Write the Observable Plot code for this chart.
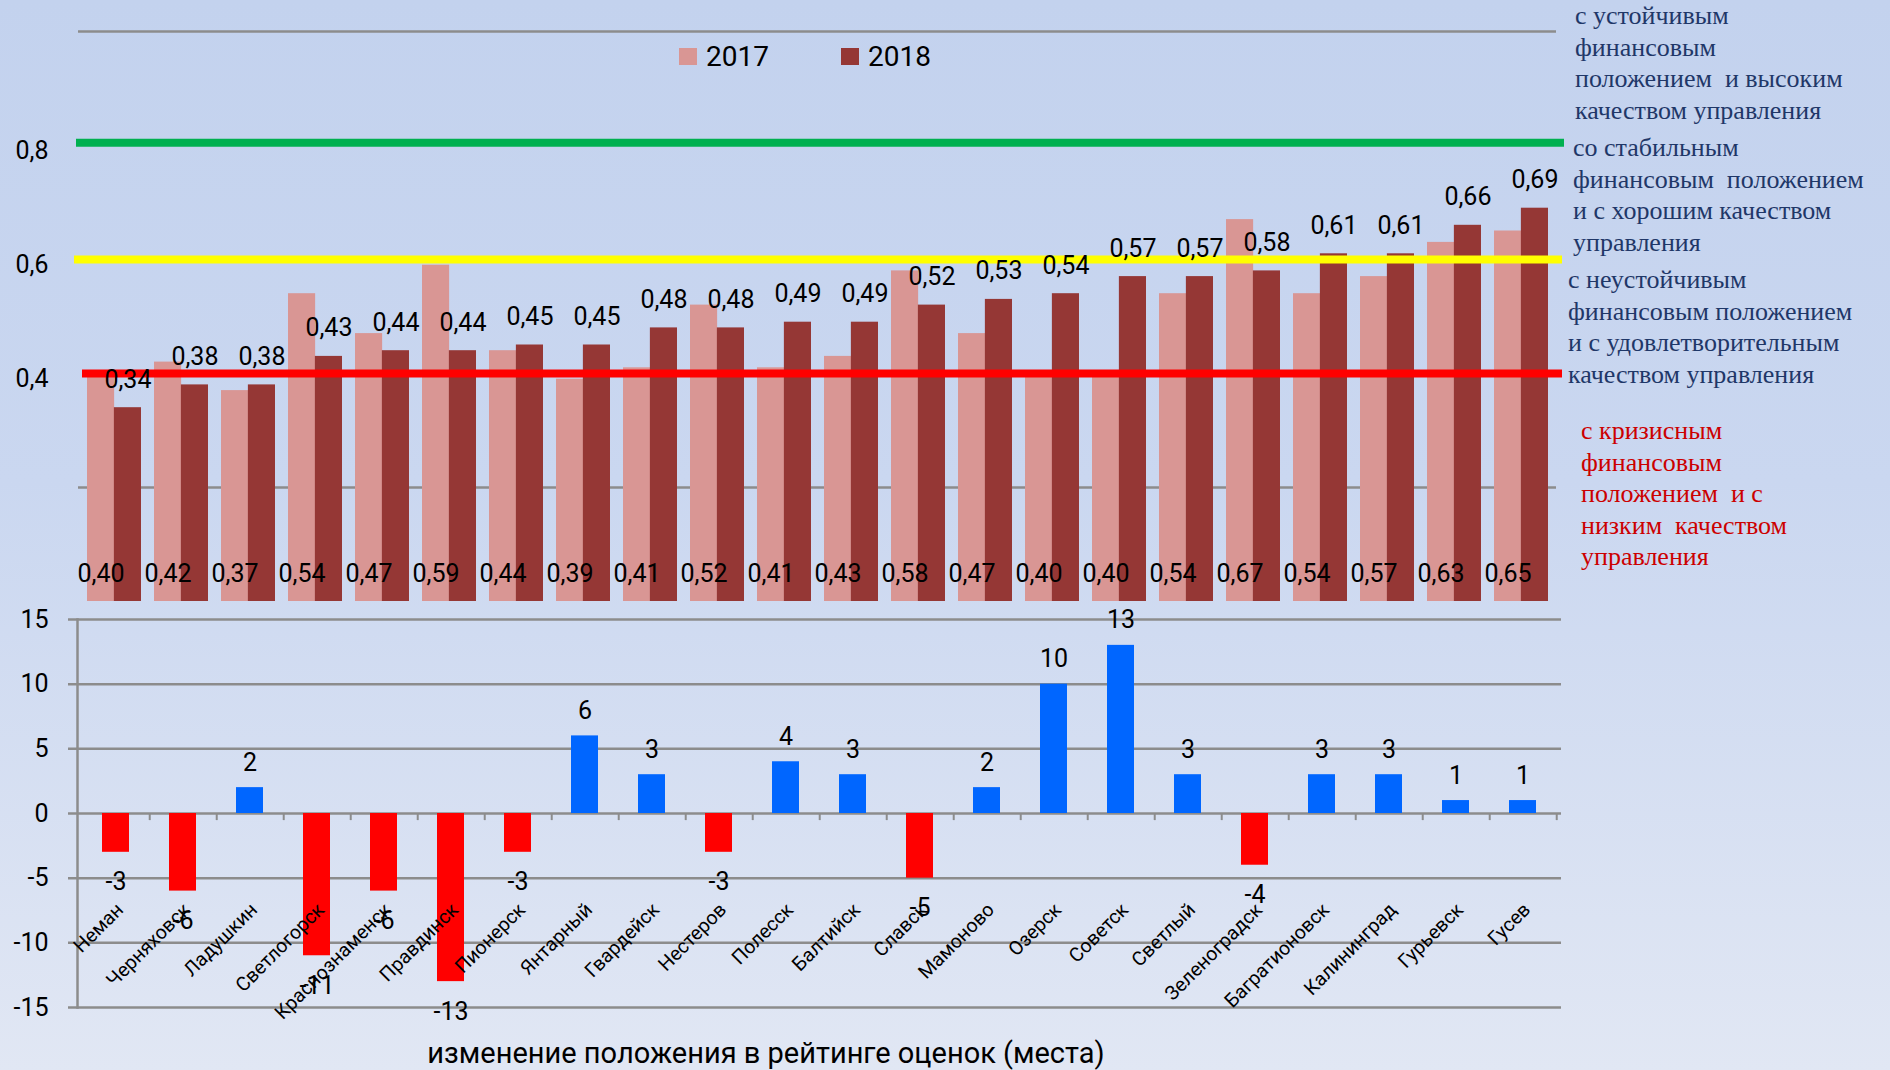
<!DOCTYPE html>
<html>
<head>
<meta charset="utf-8">
<script src="https://cdn.jsdelivr.net/npm/d3@7"></script>
<script src="https://cdn.jsdelivr.net/npm/@observablehq/plot@0.6"></script>
<style>
  html, body { margin: 0; padding: 0; }
  body {
    width: 1890px; height: 1070px; overflow: hidden; position: relative;
    background: linear-gradient(to bottom, #c3d2ee 0%, #cad7f0 45%, #e1e7f4 100%);
    font-family: Roboto, "Noto Sans", sans-serif;
  }
  #topChart, #bottomChart { position: absolute; left: 0; }
  #topChart { top: 0; }
  #bottomChart { top: 590px; }
  .note {
    position: absolute; font-family: "Liberation Serif", "Times New Roman", serif;
    font-size: 26px; line-height: 31.5px; white-space: pre; color: #1f3768;
  }
  .note.red { color: #cc0000; }
  .legend { position: absolute; top: 40px; left: 679px; display: flex; align-items: center; font-size: 28px; color: #000; }
  .legend .item { display: flex; align-items: center; margin-right: 72px; }
  .legend .sw { width: 18px; height: 17px; margin-right: 9px; }
  #caption { position: absolute; top: 1036px; left: 0; width: 1532px; text-align: center; font-size: 29px; color: #000; }
</style>
</head>
<body>
<div id="topChart"></div>
<div id="bottomChart"></div>
<div class="legend" id="legend"></div>
<div class="note" style="left:1575px; top:0px;">с устойчивым
финансовым
положением  и высоким
качеством управления</div>
<div class="note" style="left:1573px; top:132px;">со стабильным
финансовым  положением
и с хорошим качеством
управления</div>
<div class="note" style="left:1568px; top:264px;">с неустойчивым
финансовым положением
и с удовлетворительным
качеством управления</div>
<div class="note red" style="left:1581px; top:415px;">с кризисным
финансовым
положением  и с
низким  качеством
управления</div>
<div id="caption">изменение положения в рейтинге оценок (места)</div>
<script>
// ---- data ----
const cities = ["Неман","Черняховск","Ладушкин","Светлогорск","Краснознаменск","Правдинск","Пионерск","Янтарный","Гвардейск","Нестеров","Полесск","Балтийск","Славск","Мамоново","Озерск","Советск","Светлый","Зеленоградск","Багратионовск","Калининград","Гурьевск","Гусев"];
const score2017 = [0.40,0.42,0.37,0.54,0.47,0.59,0.44,0.39,0.41,0.52,0.41,0.43,0.58,0.47,0.40,0.40,0.54,0.67,0.54,0.57,0.63,0.65];
const score2018 = [0.34,0.38,0.38,0.43,0.44,0.44,0.45,0.45,0.48,0.48,0.49,0.49,0.52,0.53,0.54,0.57,0.57,0.58,0.61,0.61,0.66,0.69];
const rankChange = [-3,-6,2,-11,-6,-13,-3,6,3,-3,4,3,-5,2,10,13,3,-4,3,3,1,1];
const years = ["2017","2018"];
const scoreTicks = [0.4, 0.6, 0.8];
const scoreGrid = [0.2, 1.0];
const thresholdHigh = 0.805;
const thresholdMid = 0.6;
const thresholdLow = 0.4;
const rankTicks = [-15,-10,-5,0,5,10,15];

// ---- styles ----
const c2017 = "#d99694", c2018 = "#953735";
const cPos = "#0066ff", cNeg = "#ff0000";
const gridColor = "#8c8c8c";
const comma2 = v => v.toFixed(2).replace(".", ",");
const comma1 = v => v.toFixed(1).replace(".", ",");

// legend
const legendEl = document.getElementById("legend");
[[years[0], c2017],[years[1], c2018]].forEach(([y, c]) => {
  const it = document.createElement("div"); it.className = "item";
  const sw = document.createElement("div"); sw.className = "sw"; sw.style.background = c;
  const t = document.createElement("span"); t.textContent = y;
  it.appendChild(sw); it.appendChild(t); legendEl.appendChild(it);
});

const rows17 = cities.map((c, i) => ({city: c, value: score2017[i]}));
const rows18 = cities.map((c, i) => ({city: c, value: score2018[i]}));
const rowsRank = cities.map((c, i) => ({city: c, value: rankChange[i]}));

// ---- top chart ----
const W = 1570;
const topML = 78, topMR = 14;
const topStep = (W - topML - topMR) / cities.length;
const half = topStep * 0.8 / 2;

const topPlot = Plot.plot({
  width: W, height: 610,
  marginLeft: topML, marginRight: topMR, marginTop: 31, marginBottom: 9,
  style: {background: "transparent", fontFamily: "Roboto, 'Noto Sans', sans-serif", fontSize: "25px", color: "#000", overflow: "visible"},
  x: {domain: cities, paddingInner: 0.2, paddingOuter: 0.1, axis: null},
  y: {domain: [0, 1.0], axis: null},
  marks: [
    Plot.ruleY(scoreGrid, {stroke: gridColor, strokeWidth: 2.5}),
    Plot.barY(rows17, {x: "city", y: "value", fill: c2017, insetRight: half}),
    Plot.barY(rows18, {x: "city", y: "value", fill: c2018, insetLeft: half}),
    Plot.ruleY([thresholdHigh], {stroke: "#00b050", strokeWidth: 8, insetLeft: -2, insetRight: -8}),
    Plot.ruleY([thresholdMid], {stroke: "#ffff00", strokeWidth: 8, insetLeft: -4, insetRight: -6}),
    Plot.ruleY([thresholdLow], {stroke: "#ff0000", strokeWidth: 8, insetLeft: 4, insetRight: -6}),
    Plot.text(rows17, {x: "city", y: () => 0, text: d => comma2(d.value), dx: -half / 2, dy: -28, fill: "#000"}),
    Plot.text(rows18, {x: "city", y: "value", text: d => comma2(d.value), dx: half / 2, dy: -28, fill: "#000"}),
    Plot.axisY(scoreTicks, {tickSize: 0, tickPadding: 30, tickFormat: comma1, dy: 5, label: null, fill: "#000"})
  ]
});
document.getElementById("topChart").appendChild(topPlot);

// ---- bottom chart ----
const botML = 77, botMR = 9;
const botStep = (W - botML - botMR) / cities.length;
const bottomPlot = Plot.plot({
  width: W, height: 480,
  marginLeft: botML, marginRight: botMR, marginTop: 29, marginBottom: 63,
  style: {background: "transparent", fontFamily: "Roboto, 'Noto Sans', sans-serif", fontSize: "25px", color: "#000", overflow: "visible"},
  x: {domain: cities, paddingInner: 0.6, paddingOuter: 0.3, axis: null},
  y: {domain: [-15, 15], axis: null},
  marks: [
    Plot.ruleY(rankTicks, {stroke: gridColor, strokeWidth: 2.5, insetLeft: -9}),
    Plot.frame({anchor: "left", stroke: gridColor, strokeWidth: 2.5}),
    Plot.ruleX(cities, {x: d => d, dx: botStep / 2, y1: () => 0, y2: () => -0.55, stroke: gridColor, strokeWidth: 2}),
    Plot.barY(rowsRank.filter(d => d.value >= 0), {x: "city", y: "value", fill: cPos}),
    Plot.barY(rowsRank.filter(d => d.value < 0), {x: "city", y: "value", fill: cNeg}),
    Plot.text(rowsRank.filter(d => d.value >= 0), {x: "city", y: "value", text: d => String(d.value), dy: -25, fill: "#000"}),
    Plot.text(rowsRank.filter(d => d.value < 0), {x: "city", y: "value", text: d => String(d.value), dy: 30, fill: "#000"}),
    Plot.axisY(rankTicks, {tickSize: 0, tickPadding: 29, tickFormat: d => String(d), label: null, fill: "#000"}),
    Plot.axisX({anchor: "bottom", tickSize: 0, tickPadding: 0, tickRotate: -45, textAnchor: "end", lineAnchor: "middle", dy: -101, dx: 4, fontSize: 19.5, label: null, fill: "#000"})
  ]
});
document.getElementById("bottomChart").appendChild(bottomPlot);
</script>
</body>
</html>
